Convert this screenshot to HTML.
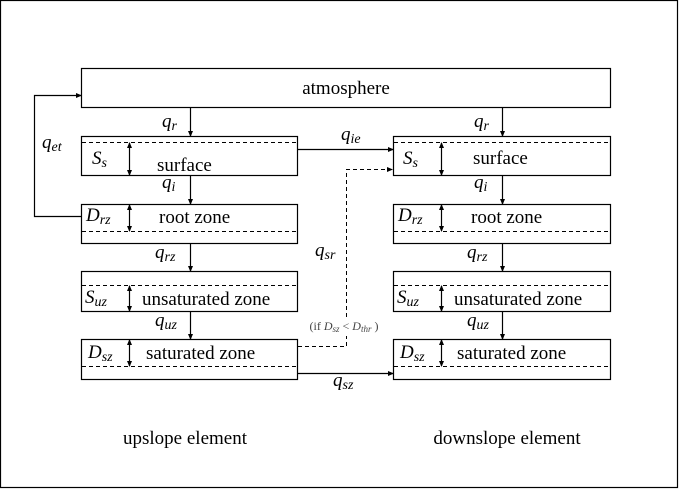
<!DOCTYPE html>
<html><head><meta charset="utf-8"><style>
html,body{margin:0;padding:0;background:#fff;}
svg{display:block;}
</style></head><body>
<svg width="679" height="489" viewBox="0 0 679 489" xmlns="http://www.w3.org/2000/svg" style="font-family:'Liberation Serif','Times New Roman','DejaVu Serif',serif;">
<defs>
<marker id="a" markerWidth="6" markerHeight="6" refX="5" refY="3" orient="auto" markerUnits="userSpaceOnUse">
<path d="M0,0.5 L6,3 L0,5.5 Z" fill="#000"/></marker>
<marker id="b" markerWidth="6" markerHeight="6" refX="1" refY="3" orient="auto" markerUnits="userSpaceOnUse">
<path d="M6,0.5 L0,3 L6,5.5 Z" fill="#000"/></marker>
</defs>
<rect x="0.5" y="0.5" width="677" height="487" fill="none" stroke="#000" stroke-width="1.2"/>
<g fill="none" stroke="#000" stroke-width="1.2">
<rect x="81.5" y="68.5" width="529" height="39"/>
<rect x="81.5" y="136.5" width="216" height="39"/>
<rect x="81.5" y="204.5" width="216" height="39"/>
<rect x="81.5" y="271.5" width="216" height="40"/>
<rect x="81.5" y="339.5" width="216" height="40"/>
<rect x="393.5" y="136.5" width="217" height="39"/>
<rect x="393.5" y="204.5" width="217" height="39"/>
<rect x="393.5" y="271.5" width="217" height="40"/>
<rect x="393.5" y="339.5" width="217" height="40"/>
</g>
<g fill="none" stroke="#000" stroke-width="1" stroke-dasharray="4,3">
<line x1="82" y1="142.5" x2="297" y2="142.5"/>
<line x1="82" y1="231.5" x2="297" y2="231.5"/>
<line x1="82" y1="285.5" x2="297" y2="285.5"/>
<line x1="82" y1="366.5" x2="297" y2="366.5"/>
<line x1="394" y1="142.5" x2="610" y2="142.5"/>
<line x1="394" y1="231.5" x2="610" y2="231.5"/>
<line x1="394" y1="285.5" x2="610" y2="285.5"/>
<line x1="394" y1="366.5" x2="610" y2="366.5"/>
<polyline points="298,346.5 346.5,346.5 346.5,336"/>
<polyline points="346.5,317 346.5,169.5 392,169.5" marker-end="url(#a)"/>
</g>
<g fill="none" stroke="#000" stroke-width="1.2">
<line x1="190.5" y1="108" x2="190.5" y2="136" marker-end="url(#a)"/>
<line x1="190.5" y1="176" x2="190.5" y2="204" marker-end="url(#a)"/>
<line x1="190.5" y1="244" x2="190.5" y2="271" marker-end="url(#a)"/>
<line x1="190.5" y1="312" x2="190.5" y2="339" marker-end="url(#a)"/>
<line x1="502.5" y1="108" x2="502.5" y2="136" marker-end="url(#a)"/>
<line x1="502.5" y1="176" x2="502.5" y2="204" marker-end="url(#a)"/>
<line x1="502.5" y1="244" x2="502.5" y2="271" marker-end="url(#a)"/>
<line x1="502.5" y1="312" x2="502.5" y2="339" marker-end="url(#a)"/>
<line x1="129.5" y1="143" x2="129.5" y2="175" marker-start="url(#b)" marker-end="url(#a)"/>
<line x1="129.5" y1="205" x2="129.5" y2="231" marker-start="url(#b)" marker-end="url(#a)"/>
<line x1="129.5" y1="286" x2="129.5" y2="311" marker-start="url(#b)" marker-end="url(#a)"/>
<line x1="129.5" y1="340" x2="129.5" y2="366" marker-start="url(#b)" marker-end="url(#a)"/>
<line x1="441.5" y1="143" x2="441.5" y2="175" marker-start="url(#b)" marker-end="url(#a)"/>
<line x1="441.5" y1="205" x2="441.5" y2="231" marker-start="url(#b)" marker-end="url(#a)"/>
<line x1="441.5" y1="286" x2="441.5" y2="311" marker-start="url(#b)" marker-end="url(#a)"/>
<line x1="441.5" y1="340" x2="441.5" y2="366" marker-start="url(#b)" marker-end="url(#a)"/>
<line x1="298" y1="149.5" x2="393" y2="149.5" marker-end="url(#a)"/>
<line x1="298" y1="373.5" x2="393" y2="373.5" marker-end="url(#a)"/>
<polyline points="81,216.5 34.5,216.5 34.5,95.5 81,95.5" marker-end="url(#a)"/>
</g>
<g font-size="19" fill="#000" style="font-family:'Liberation Serif','Times New Roman','DejaVu Serif',serif;">
<text x="346" y="94" text-anchor="middle">atmosphere</text>
<text x="157" y="171">surface</text>
<text x="159" y="223">root zone</text>
<text x="142" y="305">unsaturated zone</text>
<text x="146" y="359">saturated zone</text>
<text x="473" y="164">surface</text>
<text x="471" y="223">root zone</text>
<text x="454" y="305">unsaturated zone</text>
<text x="457" y="359">saturated zone</text>
<text x="185" y="444" text-anchor="middle">upslope element</text>
<text x="507" y="444" text-anchor="middle">downslope element</text>
<g font-style="italic">
<text x="162" y="127">q<tspan font-size="14" dy="3">r</tspan></text>
<text x="474" y="127">q<tspan font-size="14" dy="3">r</tspan></text>
<text x="162" y="188">q<tspan font-size="14" dy="3">i</tspan></text>
<text x="474" y="188">q<tspan font-size="14" dy="3">i</tspan></text>
<text x="155" y="258">q<tspan font-size="14" dy="3">rz</tspan></text>
<text x="467" y="258">q<tspan font-size="14" dy="3">rz</tspan></text>
<text x="155" y="326">q<tspan font-size="14" dy="3">uz</tspan></text>
<text x="467" y="326">q<tspan font-size="14" dy="3">uz</tspan></text>
<text x="42" y="148">q<tspan font-size="14" dy="3">et</tspan></text>
<text x="341" y="140">q<tspan font-size="14" dy="3">ie</tspan></text>
<text x="315" y="256">q<tspan font-size="14" dy="3">sr</tspan></text>
<text x="333" y="386">q<tspan font-size="14" dy="3">sz</tspan></text>
<text x="92" y="164">S<tspan font-size="14" dy="3">s</tspan></text>
<text x="403" y="164">S<tspan font-size="14" dy="3">s</tspan></text>
<text x="86" y="221">D<tspan font-size="14" dy="3">rz</tspan></text>
<text x="398" y="221">D<tspan font-size="14" dy="3">rz</tspan></text>
<text x="85" y="303">S<tspan font-size="14" dy="3">uz</tspan></text>
<text x="397" y="303">S<tspan font-size="14" dy="3">uz</tspan></text>
<text x="88" y="358">D<tspan font-size="14" dy="3">sz</tspan></text>
<text x="400" y="358">D<tspan font-size="14" dy="3">sz</tspan></text>
</g>
<text x="344" y="330" font-size="12" fill="#444" text-anchor="middle">(if <tspan font-style="italic">D</tspan><tspan font-style="italic" font-size="9" dy="2">sz</tspan><tspan dy="-2"> &lt; </tspan><tspan font-style="italic">D</tspan><tspan font-style="italic" font-size="9" dy="2">thr</tspan><tspan dy="-2"> )</tspan></text>
</g>
</svg>
</body></html>
